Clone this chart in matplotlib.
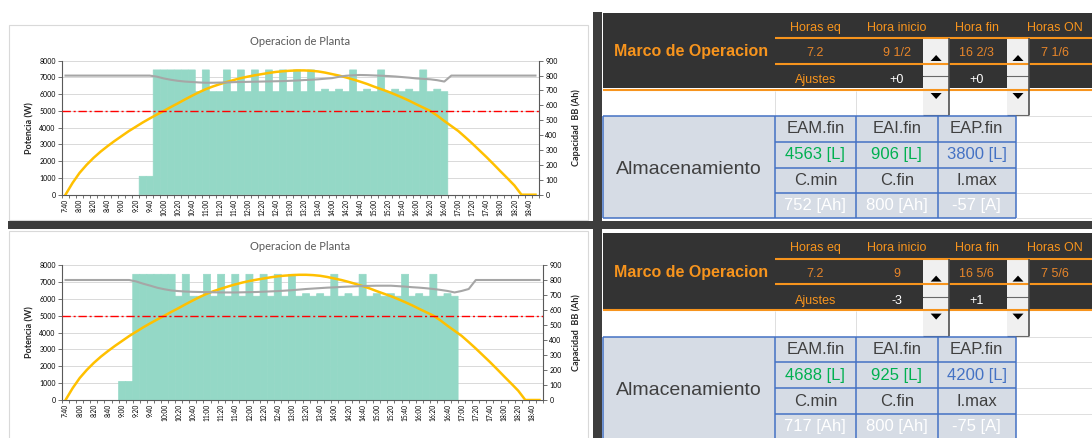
import numpy as np
import matplotlib.pyplot as plt
from matplotlib.patches import Rectangle, Polygon

plt.rcParams['font.family'] = ['Lato', 'DejaVu Sans']

W, H = 1092, 438

# categorias de 10 minutos, 7:40 .. 18:50
horas = [f"{m // 60}:{m % 60:02d}" for m in range(7 * 60 + 40, 18 * 60 + 51, 10)]

# potencia FV (W), igual en los dos escenarios
pv_w = [0, 700, 1300, 1780, 2200, 2570, 2900, 3210, 3500, 3790,
        4050, 4310, 4550, 4780, 5000, 5230, 5450, 5680, 5900, 6110,
        6300, 6460, 6600, 6730, 6850, 6960, 7050, 7130, 7200, 7270,
        7330, 7370, 7400, 7420, 7420, 7400, 7360, 7290, 7200, 7110,
        7000, 6880, 6750, 6610, 6450, 6300, 6150, 5980, 5800, 5610,
        5400, 5200, 5000, 4720, 4400, 4100, 3800, 3430, 3050, 2650,
        2250, 1830, 1400, 980, 550, 0, 0, 0]

limite_w = 5000

# consumo de planta (W)
carga_sup = [0, 0, 0, 0, 0, 0, 0, 0, 0, 0,
             0, 1100, 1100, 7450, 7450, 7450, 7450, 7450, 7450, 6150,
             7450, 6150, 6150, 7450, 6150, 7450, 6150, 7450, 6150, 7450,
             6150, 7450, 6150, 7450, 6150, 7450, 6150, 6300, 6150, 6300,
             6150, 7450, 6150, 6300, 6150, 7450, 6150, 6300, 6150, 6300,
             6150, 7450, 6150, 6300, 6150, 0, 0, 0, 0, 0,
             0, 0, 0, 0, 0, 0, 0, 0]
carga_inf = [0, 0, 0, 0, 0, 0, 0, 0, 1100, 1100,
             7450, 7450, 7450, 7450, 7450, 7450, 6150, 7450, 6150, 6150,
             7450, 6150, 7450, 6150, 7450, 6150, 7450, 6150, 7450, 6150,
             7450, 6150, 7450, 6150, 6300, 6150, 6300, 6150, 7450, 6150,
             6300, 6150, 7450, 6150, 6300, 6150, 6300, 6150, 7450, 6150,
             6300, 6150, 7450, 6150, 6300, 6150, 0, 0, 0, 0,
             0, 0, 0, 0, 0, 0, 0, 0]

# capacidad del banco de baterias (Ah)
bat_sup = [800, 800, 800, 800, 800, 800, 800, 800, 800, 800,
           800, 800, 800, 793, 781, 772, 765, 760, 757, 754,
           752, 752, 753, 754, 756, 757, 758, 759, 760, 761,
           762, 763, 765, 767, 770, 772, 775, 779, 783, 792,
           799, 802, 804, 803, 801, 799, 797, 794, 790, 786,
           781, 778, 775, 769, 760, 800, 800, 800, 800, 800,
           800, 800, 800, 800, 800, 800, 800, 800]
bat_inf = [800, 800, 800, 800, 800, 800, 800, 800, 800, 800,
           790, 775, 762, 748, 738, 730, 726, 723, 721, 720,
           719, 718, 717, 717, 717, 718, 719, 720, 722, 724,
           726, 729, 732, 736, 740, 743, 746, 749, 751, 754,
           756, 758, 760, 761, 762, 762, 762, 759, 756, 752,
           749, 745, 740, 734, 727, 717, 727, 740, 800, 800,
           800, 800, 800, 800, 800, 800, 800, 800]

# paneles de la derecha
cabeceras = ["Horas eq", "Hora inicio", "Hora fin", "Horas ON"]
marco_sup = ["7.2", "9 1/2", "16 2/3", "7 1/6"]
marco_inf = ["7.2", "9", "16 5/6", "7 5/6"]
ajustes_sup = ["+0", "+0"]
ajustes_inf = ["-3", "+1"]
alm_fila1 = ["EAM.fin", "EAI.fin", "EAP.fin"]
alm_fila3 = ["C.min", "C.fin", "I.max"]
energia_sup = ["4563 [L]", "906 [L]", "3800 [L]"]
energia_inf = ["4688 [L]", "925 [L]", "4200 [L]"]
cap_sup = ["752 [Ah]", "800 [Ah]", "-57 [A]"]
cap_inf = ["717 [Ah]", "800 [Ah]", "-75 [A]"]

fig = plt.figure(figsize=(W / 100, H / 100), dpi=100)
bg = fig.add_axes([0, 0, 1, 1])
bg.set_xlim(0, W)
bg.set_ylim(H, 0)
bg.axis('off')


def box(x0, y0, x1, y1, **kw):
    bg.add_patch(Rectangle((x0, y0), x1 - x0, y1 - y0, **kw))


def line(xs, ys, **kw):
    bg.plot(xs, ys, solid_capstyle='butt', **kw)


# marcos de los graficos y separadores oscuros
box(9, 25, 588, 220, facecolor='white', edgecolor='#D9D9D9', lw=0.8)
box(9, 231, 588, 445, facecolor='white', edgecolor='#D9D9D9', lw=0.8)
box(8, 221, W, 229, facecolor='#3D3D3D', lw=0)
box(593, 12, 602, H, facecolor='#3D3D3D', lw=0)

GRIS = '#595959'
VERDE = '#94D8C6'


def grafico(y_top, y_bot, x_right, barras, bat):
    ax = fig.add_axes([62 / W, 1 - y_bot / H, (x_right - 62) / W, (y_bot - y_top) / H])
    ax.set_facecolor('none')
    x = np.arange(len(horas))
    bordes = [VERDE if v > 0 else 'none' for v in barras]
    ax.bar(x, barras, width=1.0, color=VERDE, edgecolor=bordes, lw=0.5,
           snap=False, zorder=2)
    ax.plot(x, pv_w, color='#FFC000', lw=1.8, zorder=4)
    ax.axhline(limite_w, color='#FF0000', lw=1.0, ls=(0, (6, 2, 1.5, 2)), zorder=5)
    ax.set_xlim(-0.5, len(horas) - 0.5)
    ax.set_ylim(0, 8000)
    ax.set_yticks(range(0, 8001, 1000))
    ax.grid(axis='y', color='#D9D9D9', lw=0.7)
    ax.set_axisbelow(True)
    ax.set_xticks(x[::2])
    ax.set_xticklabels(horas[::2], rotation=90, fontsize=4.8)
    ax.set_xticks(np.arange(-0.5, len(horas), 1), minor=True)
    ax.tick_params(axis='x', which='major', length=0, pad=3)
    ax.tick_params(axis='x', which='minor', length=2.5, color=GRIS, width=0.6)
    ax.tick_params(axis='y', length=3, color=GRIS, width=0.6, labelsize=5, pad=1.5)
    for s in ('top', 'right'):
        ax.spines[s].set_visible(False)
    for s in ('left', 'bottom'):
        ax.spines[s].set_color(GRIS)
        ax.spines[s].set_linewidth(0.8)

    ax2 = ax.twinx()
    ax2.plot(x, bat, color='#A6A6A6', lw=1.5)
    ax2.set_ylim(0, 900)
    ax2.set_yticks(range(0, 901, 100))
    ax2.tick_params(axis='y', length=3, color=GRIS, width=0.6, labelsize=5, pad=1.5)
    for s in ('top', 'left', 'bottom'):
        ax2.spines[s].set_visible(False)
    ax2.spines['right'].set_color(GRIS)
    ax2.spines['right'].set_linewidth(0.8)

    yc = (y_top + y_bot) / 2
    bg.text(300, y_top - 19, 'Operacion de Planta', ha='center', va='center',
            fontsize=8, color=GRIS)
    bg.text(30, yc, 'Potencia (W)', rotation=90, ha='center', va='center',
            fontsize=6.5, fontweight='bold', color='#262626')
    bg.text(576, yc, 'Capacidad  BB (Ah)', rotation=90, ha='center', va='center',
            fontsize=6.5, fontweight='bold', color='#262626')


grafico(60.7, 194.7, 539, carga_sup, bat_sup)
grafico(265, 400, 543, carga_inf, bat_inf)

NAR = '#F7941D'
AZUL = '#4472C4'
ARIAL = 'Liberation Sans'
col_x = [815, 896.7, 976.7, 1055]


def panel(dy, marco, ajustes, energia, cap):
    box(603, 12.7 + dy, W, 88.5 + dy, facecolor='#333333', lw=0)
    line([603, W], [89.5 + dy] * 2, color=NAR, lw=1.5)
    bg.text(691, 51.7 + dy, 'Marco de Operacion', ha='center', va='center',
            fontsize=11.5, fontweight='bold', color=NAR, family=ARIAL)
    for xc, h, v in zip(col_x, cabeceras, marco):
        bg.text(xc, 27.7 + dy, h, ha='center', va='center', fontsize=9,
                color=NAR, family=ARIAL)
        bg.text(xc, 53 + dy, v, ha='center', va='center', fontsize=9,
                color='#E8862A', family=ARIAL)
    line([775, W], [38 + dy] * 2, color=NAR, lw=1.5)
    line([775, W], [63.5 + dy] * 2, color=NAR, lw=1.5)
    bg.text(816, 80 + dy, 'Ajustes', ha='center', va='center', fontsize=9,
            color=NAR, family=ARIAL)
    for xc, a in zip(col_x[1:3], ajustes):
        bg.text(xc, 80 + dy, a, ha='center', va='center', fontsize=9,
                color='white', family=ARIAL)

    # zona blanca con cuadricula
    for xv in (775, 855.7):
        line([xv, xv], [90.5 + dy, 116 + dy], color='#D9D9D9', lw=0.6)

    # botones de ajuste
    for sx0, sx1 in ((923, 949.3), (1006.7, 1029.3)):
        cx = (sx0 + sx1) / 2
        for by0, by1, up in ((38, 76, True), (77, 115, False)):
            box(sx0, by0 + dy, sx1, by1 + dy, facecolor='#F0F0F0', lw=0)
            line([sx0, sx1], [by1 + dy] * 2, color='#696969', lw=0.8)
            cy = (by0 + by1) / 2 + dy + (1 if up else 0)
            if up:
                pts = [(cx - 5.5, cy + 3), (cx + 5.5, cy + 3), (cx, cy - 3)]
            else:
                pts = [(cx - 5.5, cy - 3), (cx + 5.5, cy - 3), (cx, cy + 3)]
            bg.add_patch(Polygon(pts, closed=True, facecolor='black', lw=0))
        line([sx1, sx1], [38 + dy, 115 + dy], color='#505050', lw=1.2)

    # tabla de almacenamiento
    cols = [775, 855.7, 937.7, 1015.7]
    rows = [116, 141.7, 167.7, 193.3, 218.3]
    for yv in rows:
        line([1015.7, W], [yv + dy] * 2, color='#D9D9D9', lw=0.6)
    box(603, 116 + dy, 1015.7, 218.3 + dy, facecolor='#D6DCE5', lw=0)
    for yv in rows:
        line([775, 1015.7], [yv + dy] * 2, color=AZUL, lw=1.1)
    for xv in [603] + cols:
        line([xv, xv], [116 + dy, 218.3 + dy], color=AZUL, lw=1.1)
    line([603, 775], [116 + dy] * 2, color=AZUL, lw=1.1)
    line([603, 775], [218.3 + dy] * 2, color=AZUL, lw=1.1)
    bg.text(689, 170 + dy, 'Almacenamiento', ha='center', va='center',
            fontsize=14, color='#404040', family=ARIAL)
    centros = [(cols[i] + cols[i + 1]) / 2 for i in range(3)]
    ry = [(rows[i] + rows[i + 1]) / 2 + dy for i in range(4)]
    colores = ['#00B050', '#00B050', AZUL]
    for i, xc in enumerate(centros):
        bg.text(xc, ry[0], alm_fila1[i], ha='center', va='center', fontsize=12,
                color='#404040', family=ARIAL)
        bg.text(xc, ry[1], energia[i], ha='center', va='center', fontsize=12,
                color=colores[i], family=ARIAL)
        bg.text(xc, ry[2], alm_fila3[i], ha='center', va='center', fontsize=12,
                color='#404040', family=ARIAL)
        bg.text(xc, ry[3], cap[i], ha='center', va='center', fontsize=12,
                color='white', family=ARIAL)


panel(0, marco_sup, ajustes_sup, energia_sup, cap_sup)
panel(220.6, marco_inf, ajustes_inf, energia_inf, cap_inf)

fig.savefig('out.png', dpi=100)
